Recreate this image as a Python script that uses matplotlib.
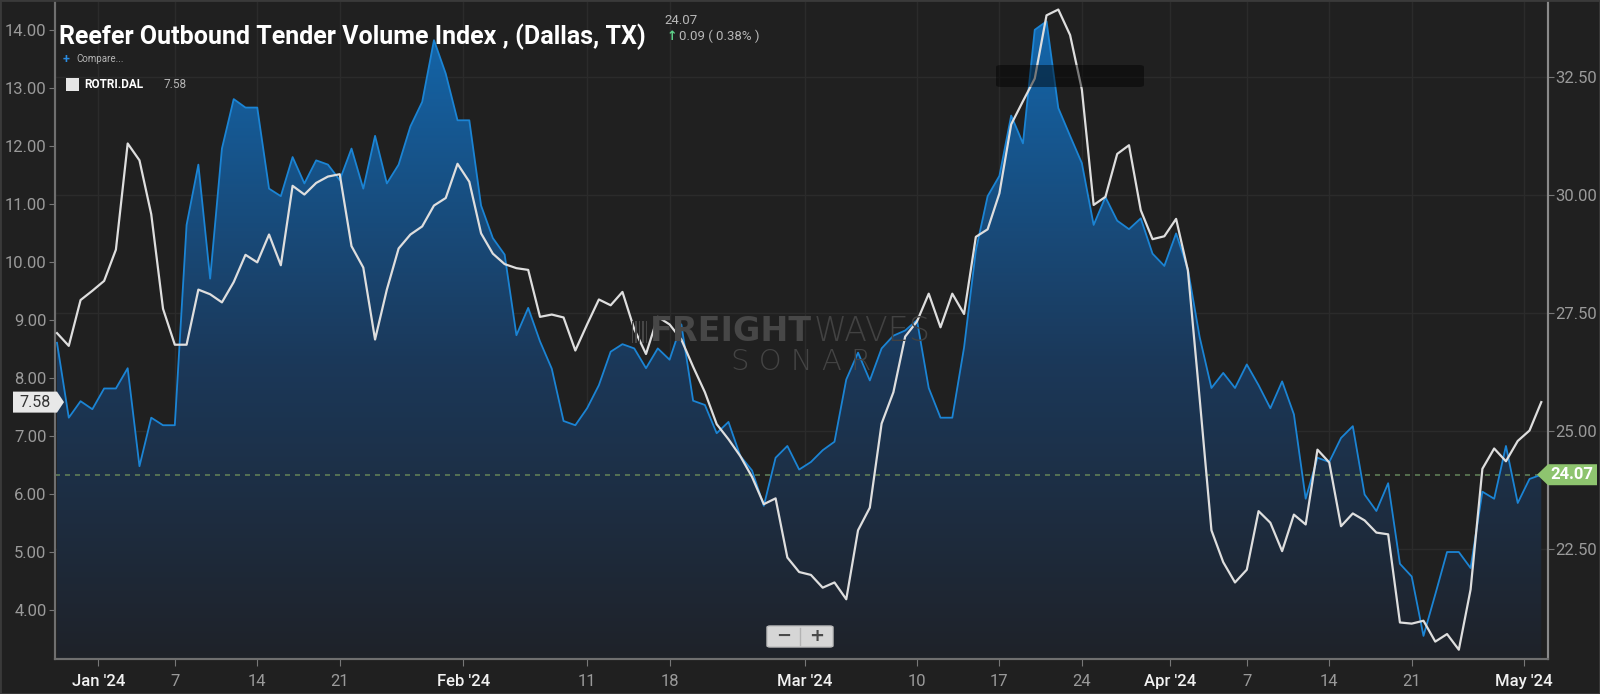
import numpy as np
import pandas as pd
import matplotlib
matplotlib.use("Agg")
import matplotlib.pyplot as plt
import matplotlib.dates as mdates
from matplotlib.colors import LinearSegmentedColormap
from matplotlib.patches import Polygon, PathPatch, FancyBboxPatch, Rectangle

plt.rcParams['font.family'] = ['Roboto', 'DejaVu Sans']

# daily values, Dec 28 2023 .. May 2 2024
dates = pd.date_range("2023-12-28", "2024-05-02", freq="D")

# ROTVI.DAL - Reefer Outbound Tender Volume Index (blue area, right axis)
tender_volume = [
    26.87, 25.28, 25.63, 25.46, 25.90, 25.90, 26.33, 24.25, 25.28, 25.12,
    25.12, 29.37, 30.65, 28.23, 30.99, 32.04, 31.86, 31.86, 30.14, 29.98,
    30.81, 30.25, 30.74, 30.65, 30.32, 30.99, 30.14, 31.26, 30.25, 30.65,
    31.46, 31.98, 33.29, 32.58, 31.59, 31.59, 29.78, 29.09, 28.74, 27.03,
    27.61, 26.90, 26.32, 25.21, 25.12, 25.48, 25.97, 26.68, 26.84, 26.75,
    26.33, 26.75, 26.51, 27.26, 25.64, 25.55, 24.95, 25.19, 24.47, 24.16,
    23.41, 24.43, 24.68, 24.18, 24.34, 24.59, 24.77, 26.09, 26.66, 26.07,
    26.75, 27.02, 27.13, 27.35, 25.91, 25.28, 25.28, 26.77, 28.83, 29.98,
    30.41, 31.69, 31.10, 33.51, 33.69, 31.85, 31.26, 30.68, 29.37, 29.96,
    29.46, 29.28, 29.51, 28.76, 28.50, 29.19, 28.43, 26.99, 25.91, 26.23,
    25.91, 26.41, 25.97, 25.48, 26.05, 25.35, 23.56, 24.43, 24.34, 24.85,
    25.10, 23.65, 23.30, 23.89, 22.18, 21.91, 20.65, 21.53, 22.43, 22.43,
    22.09, 23.71, 23.56, 24.68, 23.47, 23.98, 24.07,
]

# ROTRI.DAL - Reefer Outbound Tender Reject Index (white line, left axis)
tender_reject = [
    8.77, 8.55, 9.34, 9.50, 9.67, 10.21, 12.04, 11.75, 10.82, 9.19,
    8.57, 8.57, 9.52, 9.44, 9.30, 9.65, 10.12, 9.99, 10.47, 9.94,
    11.31, 11.16, 11.36, 11.47, 11.51, 10.27, 9.90, 8.66, 9.52, 10.23,
    10.47, 10.61, 10.97, 11.10, 11.69, 11.38, 10.49, 10.14, 9.96, 9.89,
    9.86, 9.05, 9.09, 9.04, 8.47, 8.92, 9.35, 9.25, 9.48, 8.84,
    8.41, 9.05, 8.92, 8.66, 8.19, 7.75, 7.20, 6.94, 6.65, 6.29,
    5.82, 5.92, 4.90, 4.65, 4.60, 4.38, 4.47, 4.18, 5.37, 5.76,
    7.21, 7.75, 8.71, 8.97, 9.45, 8.87, 9.45, 9.10, 10.43, 10.56,
    11.18, 12.37, 12.77, 13.16, 14.25, 14.35, 13.91, 12.97, 10.98, 11.12,
    11.86, 12.01, 10.89, 10.39, 10.44, 10.74, 9.85, 7.64, 5.37, 4.82,
    4.47, 4.69, 5.70, 5.50, 5.01, 5.64, 5.47, 6.76, 6.54, 5.44,
    5.66, 5.54, 5.33, 5.30, 3.78, 3.76, 3.81, 3.45, 3.58, 3.31,
    4.35, 6.43, 6.78, 6.56, 6.91, 7.09, 7.58,
]

left_ticks = [4, 5, 6, 7, 8, 9, 10, 11, 12, 13, 14]
right_ticks = [22.5, 25.0, 27.5, 30.0, 32.5]
month_ticks = ["2024-01-01", "2024-02-01", "2024-03-01", "2024-04-01", "2024-05-01"]
month_labels = ["Jan '24", "Feb '24", "Mar '24", "Apr '24", "May '24"]
day_ticks = ["2024-01-07", "2024-01-14", "2024-01-21", "2024-02-11", "2024-02-18",
             "2024-03-10", "2024-03-17", "2024-03-24", "2024-04-07", "2024-04-14",
             "2024-04-21"]
day_labels = ["7", "14", "21", "11", "18", "10", "17", "24", "7", "14", "21"]

BG = '#202020'
W, H = 1600, 694


def fx(px):
    return px / W


def fy(py):
    return 1 - py / H


fig = plt.figure(figsize=(16, 6.94), dpi=100, facecolor=BG)
ax = fig.add_axes([fx(55), fy(659), fx(1548) - fx(55), fy(2) - fy(659)])
ax.set_facecolor(BG)
ax2 = ax.twinx()

x = mdates.date2num(dates)
xlim = (x[0] - 0.17, x[-1] + 0.57)
ylim_r = (20.16, 34.10)
ylim_l = (3.15, 14.48)

# blue area with vertical gradient
fill = ax.fill_between(x, tender_volume, ylim_r[0], color='none', lw=0)
clip = PathPatch(fill.get_paths()[0], transform=ax.transData,
                 facecolor='none', edgecolor='none')
ax.add_patch(clip)
cmap = LinearSegmentedColormap.from_list(
    'area', [(0, '#1f2229'), (0.45, '#1b3859'), (1, '#1369b0')])
grad = np.linspace(0, 1, 256).reshape(-1, 1)
im = ax.imshow(grad, extent=[xlim[0], xlim[1], ylim_r[0], ylim_r[1]],
               origin='lower', aspect='auto', cmap=cmap, zorder=1)
im.set_clip_path(clip)
ax.plot(x, tender_volume, color='#1b84d4', lw=1.3, zorder=3)
ax.axhline(tender_volume[-1], color='#5f7d57', lw=1.2, ls=(0, (3, 3)), zorder=2)

ax2.plot(x, tender_reject, color='#dedede', lw=1.6, zorder=4)

ax.set_xlim(*xlim)
ax.set_ylim(*ylim_r)
ax2.set_ylim(*ylim_l)

# axes, ticks, grid
ax.yaxis.tick_right()
ax2.yaxis.tick_left()
ax.set_yticks(right_ticks, [f"{v:.2f}" for v in right_ticks])
ax2.set_yticks(left_ticks, [f"{v:.2f}" for v in left_ticks])

mpos = [mdates.date2num(pd.Timestamp(d)) - 0.5 for d in month_ticks]
dpos = [mdates.date2num(pd.Timestamp(d)) for d in day_ticks]
xpos = mpos + dpos
xlab = month_labels + day_labels
order = np.argsort(xpos)
ax.set_xticks([xpos[i] for i in order], [xlab[i] for i in order])

ax.grid(True, color='#2b2b2b', lw=1)
ax.set_axisbelow(True)
ax.tick_params(axis='x', colors='#777777', length=5, pad=6, labelsize=12)
ax.tick_params(axis='y', colors='#777777', length=4, pad=1, labelsize=12,
               labelcolor='#9a9a9a')
ax2.tick_params(axis='y', colors='#777777', length=4, pad=2, labelsize=12,
                labelcolor='#9a9a9a')
for lbl in ax.get_xticklabels():
    if "'" in lbl.get_text():
        lbl.set_color('#f2f2f2')
        lbl.set_fontweight('medium')
    else:
        lbl.set_color('#9a9a9a')

for a in (ax, ax2):
    a.spines['top'].set_visible(False)
    a.spines['left'].set_color('#6f6f6f')
    a.spines['right'].set_color('#8a8a8a')
    a.spines['bottom'].set_color('#6f6f6f')
    a.spines['left'].set_linewidth(1.5)
    a.spines['right'].set_linewidth(1.5)
    a.spines['bottom'].set_linewidth(1.5)

# watermark
renderer = fig.canvas.get_renderer()
wm1 = fig.text(fx(650), fy(332), "FREIGHT", fontsize=24, weight='bold',
               color='#474747', ha='left', va='center', family=['DejaVu Sans'],
               zorder=0.5)
right_edge = wm1.get_window_extent(renderer).x1
fig.text((right_edge + 2) / W, fy(332), "WAVES", fontsize=24, weight='light',
         color='#424242', ha='left', va='center', family=['DejaVu Sans'], zorder=0.5)
fig.text(fx(801), fy(362), "S O N A R", fontsize=21, weight='light', color='#444444',
         ha='center', va='center', family=['DejaVu Sans'], zorder=0.5)
for i in range(5):
    fig.patches.append(Rectangle((fx(632 + i * 3.4), fy(343)), 1.4 / W, 22 / H,
                                 transform=fig.transFigure, fc='#474747', ec='none'))

# header texts
fig.text(fx(59), fy(37), "Reefer Outbound Tender Volume Index , (Dallas, TX)",
         fontsize=18, weight='bold', color='white', ha='left', va='center')
fig.text(fx(664), fy(21), f"{tender_volume[-1]:.2f}", fontsize=9.5, color='#b8b8b8',
         ha='left', va='center')
fig.text(fx(667), fy(36), "\u2191", fontsize=9, weight='bold', color='#5fd38a',
         ha='left', va='center', family=['DejaVu Sans'])
chg = tender_volume[-1] - tender_volume[-2]
fig.text(fx(679), fy(36), f"{chg:.2f} ( {chg / tender_volume[-2] * 100:.2f}% )",
         fontsize=9.5, color='#b8b8b8', ha='left', va='center')
fig.text(fx(63), fy(59), "+", fontsize=9, color='#2a8be0', ha='left', va='center',
         weight='bold')
fig.text(fx(76), fy(59), "Compare...", fontsize=7, color='#b5b5b5', ha='left',
         va='center')
fig.patches.append(Rectangle((fx(66), fy(90.5)), 13 / W, 13 / H,
                             transform=fig.transFigure, fc='#e6e6e6', ec='none'))
fig.text(fx(84), fy(84), "ROTRI.DAL", fontsize=8.5, weight='bold', color='white',
         ha='left', va='center')
fig.text(fx(164), fy(84), f"{tender_reject[-1]:.2f}", fontsize=8.5, color='#b5b5b5',
         ha='left', va='center')

# dark box near the peak
fig.patches.append(FancyBboxPatch((fx(996), fy(87)), 148 / W, 22 / H,
                                  boxstyle="round,pad=0,rounding_size=0.003",
                                  transform=fig.transFigure, fc='black', alpha=0.45,
                                  ec='none', zorder=5))

# zoom buttons
fig.patches.append(FancyBboxPatch((fx(767), fy(647)), 66 / W, 21 / H,
                                  boxstyle="round,pad=0,rounding_size=0.002",
                                  transform=fig.transFigure, fc='#d6d6d6',
                                  ec='#bdbdbd', zorder=5))
fig.lines.append(plt.Line2D([fx(800), fx(800)], [fy(628), fy(645)],
                            transform=fig.transFigure, color='#b3b3b3', lw=1, zorder=6))
fig.text(fx(784), fy(636), "\u2212", fontsize=13, weight='bold', color='#4a4a4a',
         ha='center', va='center', zorder=6, family=['DejaVu Sans'])
fig.text(fx(817), fy(636), "+", fontsize=13, weight='bold', color='#4a4a4a',
         ha='center', va='center', zorder=6, family=['DejaVu Sans'])

# last value flags
yl = H - ax2.transData.transform((x[-1], tender_reject[-1]))[1]
fig.patches.append(Polygon([(fx(13), fy(yl - 10.5)), (fx(57), fy(yl - 10.5)),
                            (fx(64), fy(yl)), (fx(57), fy(yl + 10.5)),
                            (fx(13), fy(yl + 10.5))],
                           closed=True, transform=fig.transFigure,
                           fc='#e8e8e8', ec='none', zorder=6))
fig.text(fx(35), fy(yl), f"{tender_reject[-1]:.2f}", fontsize=11.5, color='#333333',
         ha='center', va='center', zorder=7)

yr = H - ax.transData.transform((x[-1], tender_volume[-1]))[1]
fig.patches.append(Polygon([(fx(1537), fy(yr)), (fx(1548), fy(yr - 10.5)),
                            (fx(1597), fy(yr - 10.5)), (fx(1597), fy(yr + 10.5)),
                            (fx(1548), fy(yr + 10.5))],
                           closed=True, transform=fig.transFigure,
                           fc='#8ec46f', ec='none', zorder=6))
fig.text(fx(1572), fy(yr), f"{tender_volume[-1]:.2f}", fontsize=12, weight='bold',
         color='white', ha='center', va='center', zorder=7)

# outer frame
fig.patches.append(Rectangle((0, 0), 1, 1, transform=fig.transFigure, fill=False,
                             ec='#3a3a3a', lw=2, zorder=8))

fig.savefig("out.png", dpi=100, facecolor=BG)
